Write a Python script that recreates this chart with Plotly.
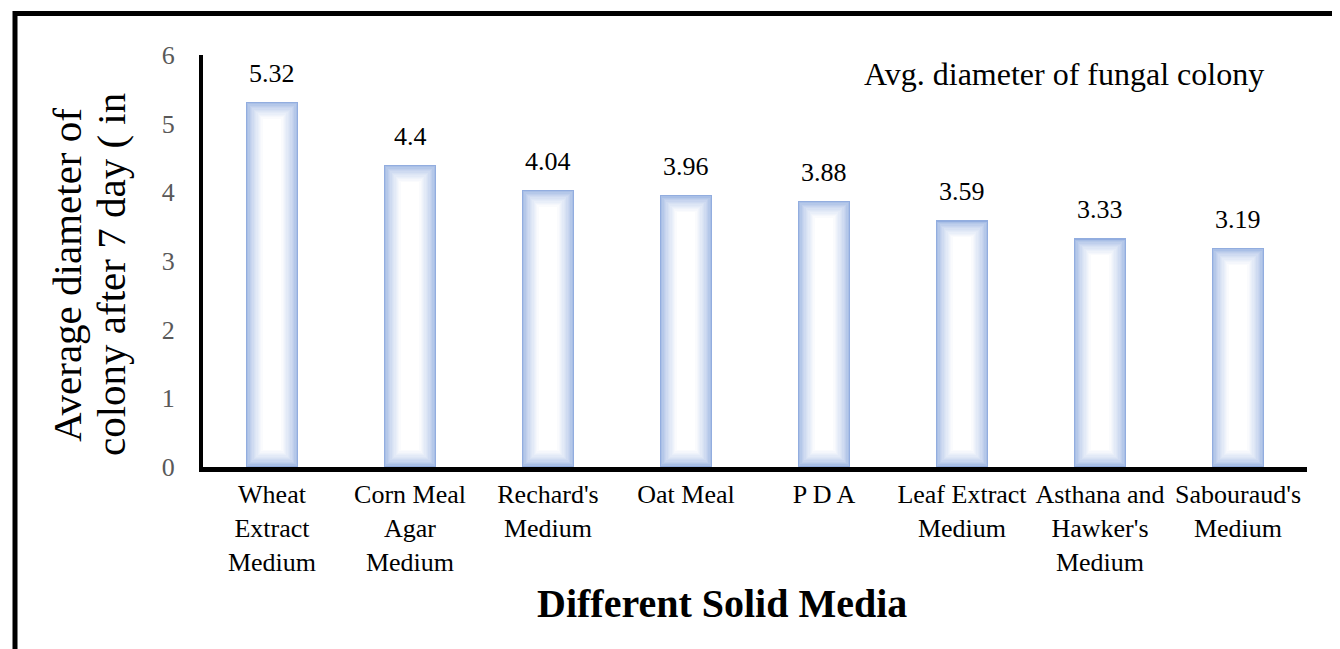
import plotly.graph_objects as go

# ---- data ----
categories = ["Wheat Extract Medium", "Corn Meal Agar Medium", "Rechard's Medium",
              "Oat Meal", "P D A", "Leaf Extract Medium",
              "Asthana and Hawker's Medium", "Sabouraud's Medium"]
tick_labels = ["Wheat<br>Extract<br>Medium", "Corn Meal<br>Agar<br>Medium", "Rechard's<br>Medium",
               "Oat Meal", "P D A", "Leaf Extract<br>Medium",
               "Asthana and<br>Hawker's<br>Medium", "Sabouraud's<br>Medium"]
values = [5.32, 4.4, 4.04, 3.96, 3.88, 3.59, 3.33, 3.19]
value_labels = ["5.32", "4.4", "4.04", "3.96", "3.88", "3.59", "3.33", "3.19"]
y_ticks = [0, 1, 2, 3, 4, 5, 6]

# ---- layout geometry (pixels); page body has an 8px offset ----
OFF = 8
W, H = 1340 - OFF, 649 - OFF
ML, MR, MT, MB = 203 - OFF, 33, 55 - OFF, 182
PW = W - ML - MR
PH = H - MT - MB
cat_px = PW / len(categories)
unit_px = PH / 6.0


def px_x(px):
    return (px - OFF - ML) / PW


def px_y(py):
    return (H - MB - (py - OFF)) / PH


FONT = "Liberation Serif"

fig = go.Figure()

# gradient bars: overlay layers, from edge blue to white center
bar_w = 0.38
edge = (146, 173, 223)
N = 14
max_inset_px = 17
x_idx = list(range(len(categories)))
for k in range(N):
    f = k / (N - 1)
    ins_px = max_inset_px * k / (N - 1)
    c = tuple(int(round(e + (255 - e) * (f ** 0.6))) for e in edge)
    ins_y = ins_px / unit_px
    fig.add_trace(go.Bar(
        x=x_idx,
        y=[v - 2 * ins_y for v in values],
        base=[ins_y] * len(values),
        width=bar_w - 2 * ins_px / cat_px,
        marker=dict(color="rgb(%d,%d,%d)" % c, line=dict(width=0)),
        showlegend=False,
        hoverinfo="skip" if k else "y",
    ))

# data labels
for i, v in enumerate(values):
    fig.add_annotation(x=i, y=v, text=value_labels[i], showarrow=False, yanchor="bottom",
                       yshift=12, font=dict(family=FONT, size=26, color="black"))

# legend-like text
fig.add_annotation(xref="paper", yref="paper", x=px_x(1266), y=px_y(74),
                   text="Avg. diameter of fungal colony", showarrow=False,
                   xanchor="right", yanchor="middle",
                   font=dict(family=FONT, size=32, color="black"))

# x axis title
fig.add_annotation(xref="paper", yref="paper", x=px_x(722), y=px_y(603),
                   text="<b>Different Solid Media</b>", showarrow=False,
                   xanchor="center", yanchor="middle",
                   font=dict(family=FONT, size=40, color="black"))

# y axis title (two lines)
fig.add_annotation(xref="paper", yref="paper", x=px_x(67), y=px_y(275),
                   text="Average diameter of", showarrow=False,
                   textangle=-90, xanchor="center", yanchor="middle",
                   font=dict(family=FONT, size=41, color="black"))
fig.add_annotation(xref="paper", yref="paper", x=px_x(111), y=px_y(275),
                   text="colony after 7 day ( in", showarrow=False,
                   textangle=-90, xanchor="center", yanchor="middle",
                   font=dict(family=FONT, size=41, color="black"))

# outer border
fig.add_shape(type="rect", xref="paper", yref="paper",
              x0=px_x(15), x1=px_x(1336.5),
              y0=px_y(690), y1=px_y(13.5),
              line=dict(color="black", width=5), fillcolor="rgba(0,0,0,0)", layer="above")

fig.update_layout(
    width=W, height=H,
    margin=dict(l=ML, r=MR, t=MT, b=MB),
    barmode="overlay",
    bargap=0,
    plot_bgcolor="white", paper_bgcolor="white",
    font=dict(family=FONT, color="black"),
    xaxis=dict(
        tickmode="array", tickvals=x_idx, ticktext=tick_labels,
        range=[-0.5, len(categories) - 0.5],
        showline=True, linecolor="black", linewidth=5,
        showgrid=False, zeroline=False, ticks="",
        tickfont=dict(family=FONT, size=26, color="black"),
        fixedrange=True,
    ),
    yaxis=dict(
        range=[0, 6], tickvals=y_ticks,
        showline=True, linecolor="black", linewidth=4,
        showgrid=False, zeroline=False,
        ticks="outside", ticklen=19, tickcolor="rgba(0,0,0,0)",
        tickfont=dict(family=FONT, size=26, color="#595959"),
        fixedrange=True,
    ),
)

fig.write_html("out.html", config={"displayModeBar": False})
